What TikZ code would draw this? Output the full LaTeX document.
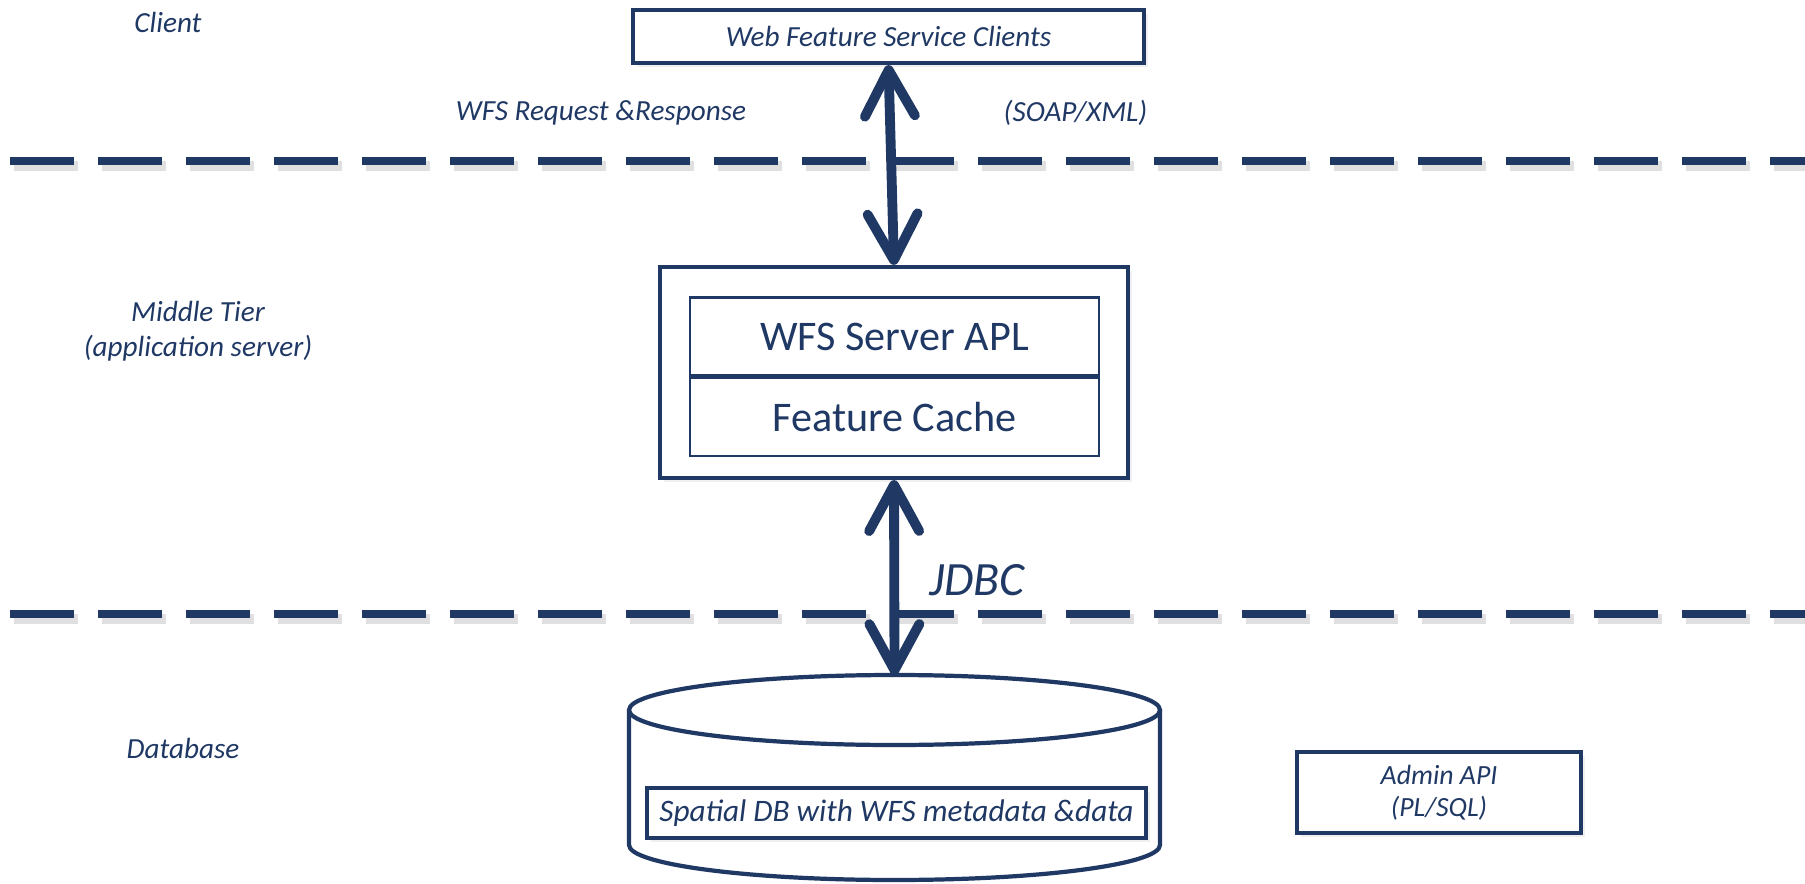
\documentclass[tikz,border=0pt]{standalone}
\usepackage{fontspec}
\setmainfont{Carlito}
\usetikzlibrary{positioning,arrows.meta,shadows}
\definecolor{navy}{RGB}{31,56,100}

\begin{document}
\begin{tikzpicture}[>={Straight Barb[length=4.6mm,width=5mm,round]},
    every node/.style={text=navy,font=\itshape\fontsize{8.3}{10}\selectfont},
    box/.style={draw=navy,line width=1.2pt,fill=white,inner sep=0pt,
      drop shadow={opacity=0.12,shadow xshift=0.04cm,shadow yshift=-0.04cm}},
    part/.style={draw=navy,line width=0.6pt,fill=white,minimum width=4.09cm,minimum height=0.78cm,inner sep=0pt,font=\fontsize{12}{14}\selectfont},
    tierline/.style={navy,line width=2.3pt,dash pattern=on 0.64cm off 0.24cm},
    tiershadow/.style={black!12,line width=2.6pt,dash pattern=on 0.64cm off 0.24cm},
    dbline/.style={draw=navy,fill=white,line width=1.2pt},
    link/.style={navy,line width=2.8pt,<->}]
  \useasboundingbox (0,0) rectangle (18.05,8.83);
  % tier borders
  \draw[tiershadow] (0.14,7.17) -- (18.09,7.17);
  \draw[tiershadow] (0.14,2.64) -- (18.09,2.64);
  \draw[tierline] (0.10,7.22) -- (18.05,7.22);
  \draw[tierline] (0.10,2.69) -- (18.05,2.69);
  % tier names
  \node (client) at (1.68,8.61) {Client};
  \node[align=center] (middle) at (1.98,5.52) {Middle Tier\\(application server)};
  \node (database) at (1.83,1.35) {Database};
  % client tier
  \node[box,minimum width=5.11cm,minimum height=0.53cm] (clients) at (8.885,8.465) {Web Feature Service Clients};
  \node (wfsreq) at (6.01,7.70) {WFS Request \&Response};
  \node (soap) at (10.755,7.70) {(SOAP/XML)};
  % middle tier
  \node[box,minimum width=4.68cm,minimum height=2.11cm] (tier) at (8.94,5.105) {};
  \node[part] (srv) at (8.945,5.465) {WFS Server APL};
  \node[part,below=0cm of srv] (cache) {Feature Cache};
  % database
  \filldraw[dbline] (6.29,1.73) -- (6.29,0.38) arc[start angle=180,end angle=360,x radius=2.655,y radius=0.35] -- (11.60,1.73);
  \draw[dbline] (8.945,1.73) ellipse [x radius=2.655, y radius=0.35];
  \coordinate (dbtop) at (8.945,2.08);
  \node[box,minimum width=4.99cm,minimum height=0.50cm,font=\itshape\fontsize{8.9}{10}\selectfont] (spatial) at (8.965,0.70) {Spatial DB with WFS metadata \&data};
  \node[box,minimum width=2.84cm,minimum height=0.81cm,align=center,font=\itshape\fontsize{7.9}{9.1}\selectfont] (admin) at (14.39,0.905) {Admin API\\(PL/SQL)};
  % links
  \draw[link] (clients.south) -- (tier.north);
  \draw[link] (tier.south) -- (dbtop);
  \node[font=\itshape\fontsize{13.6}{15}\selectfont] (jdbc) at (9.77,3.03) {JDBC};
\end{tikzpicture}
\end{document}
